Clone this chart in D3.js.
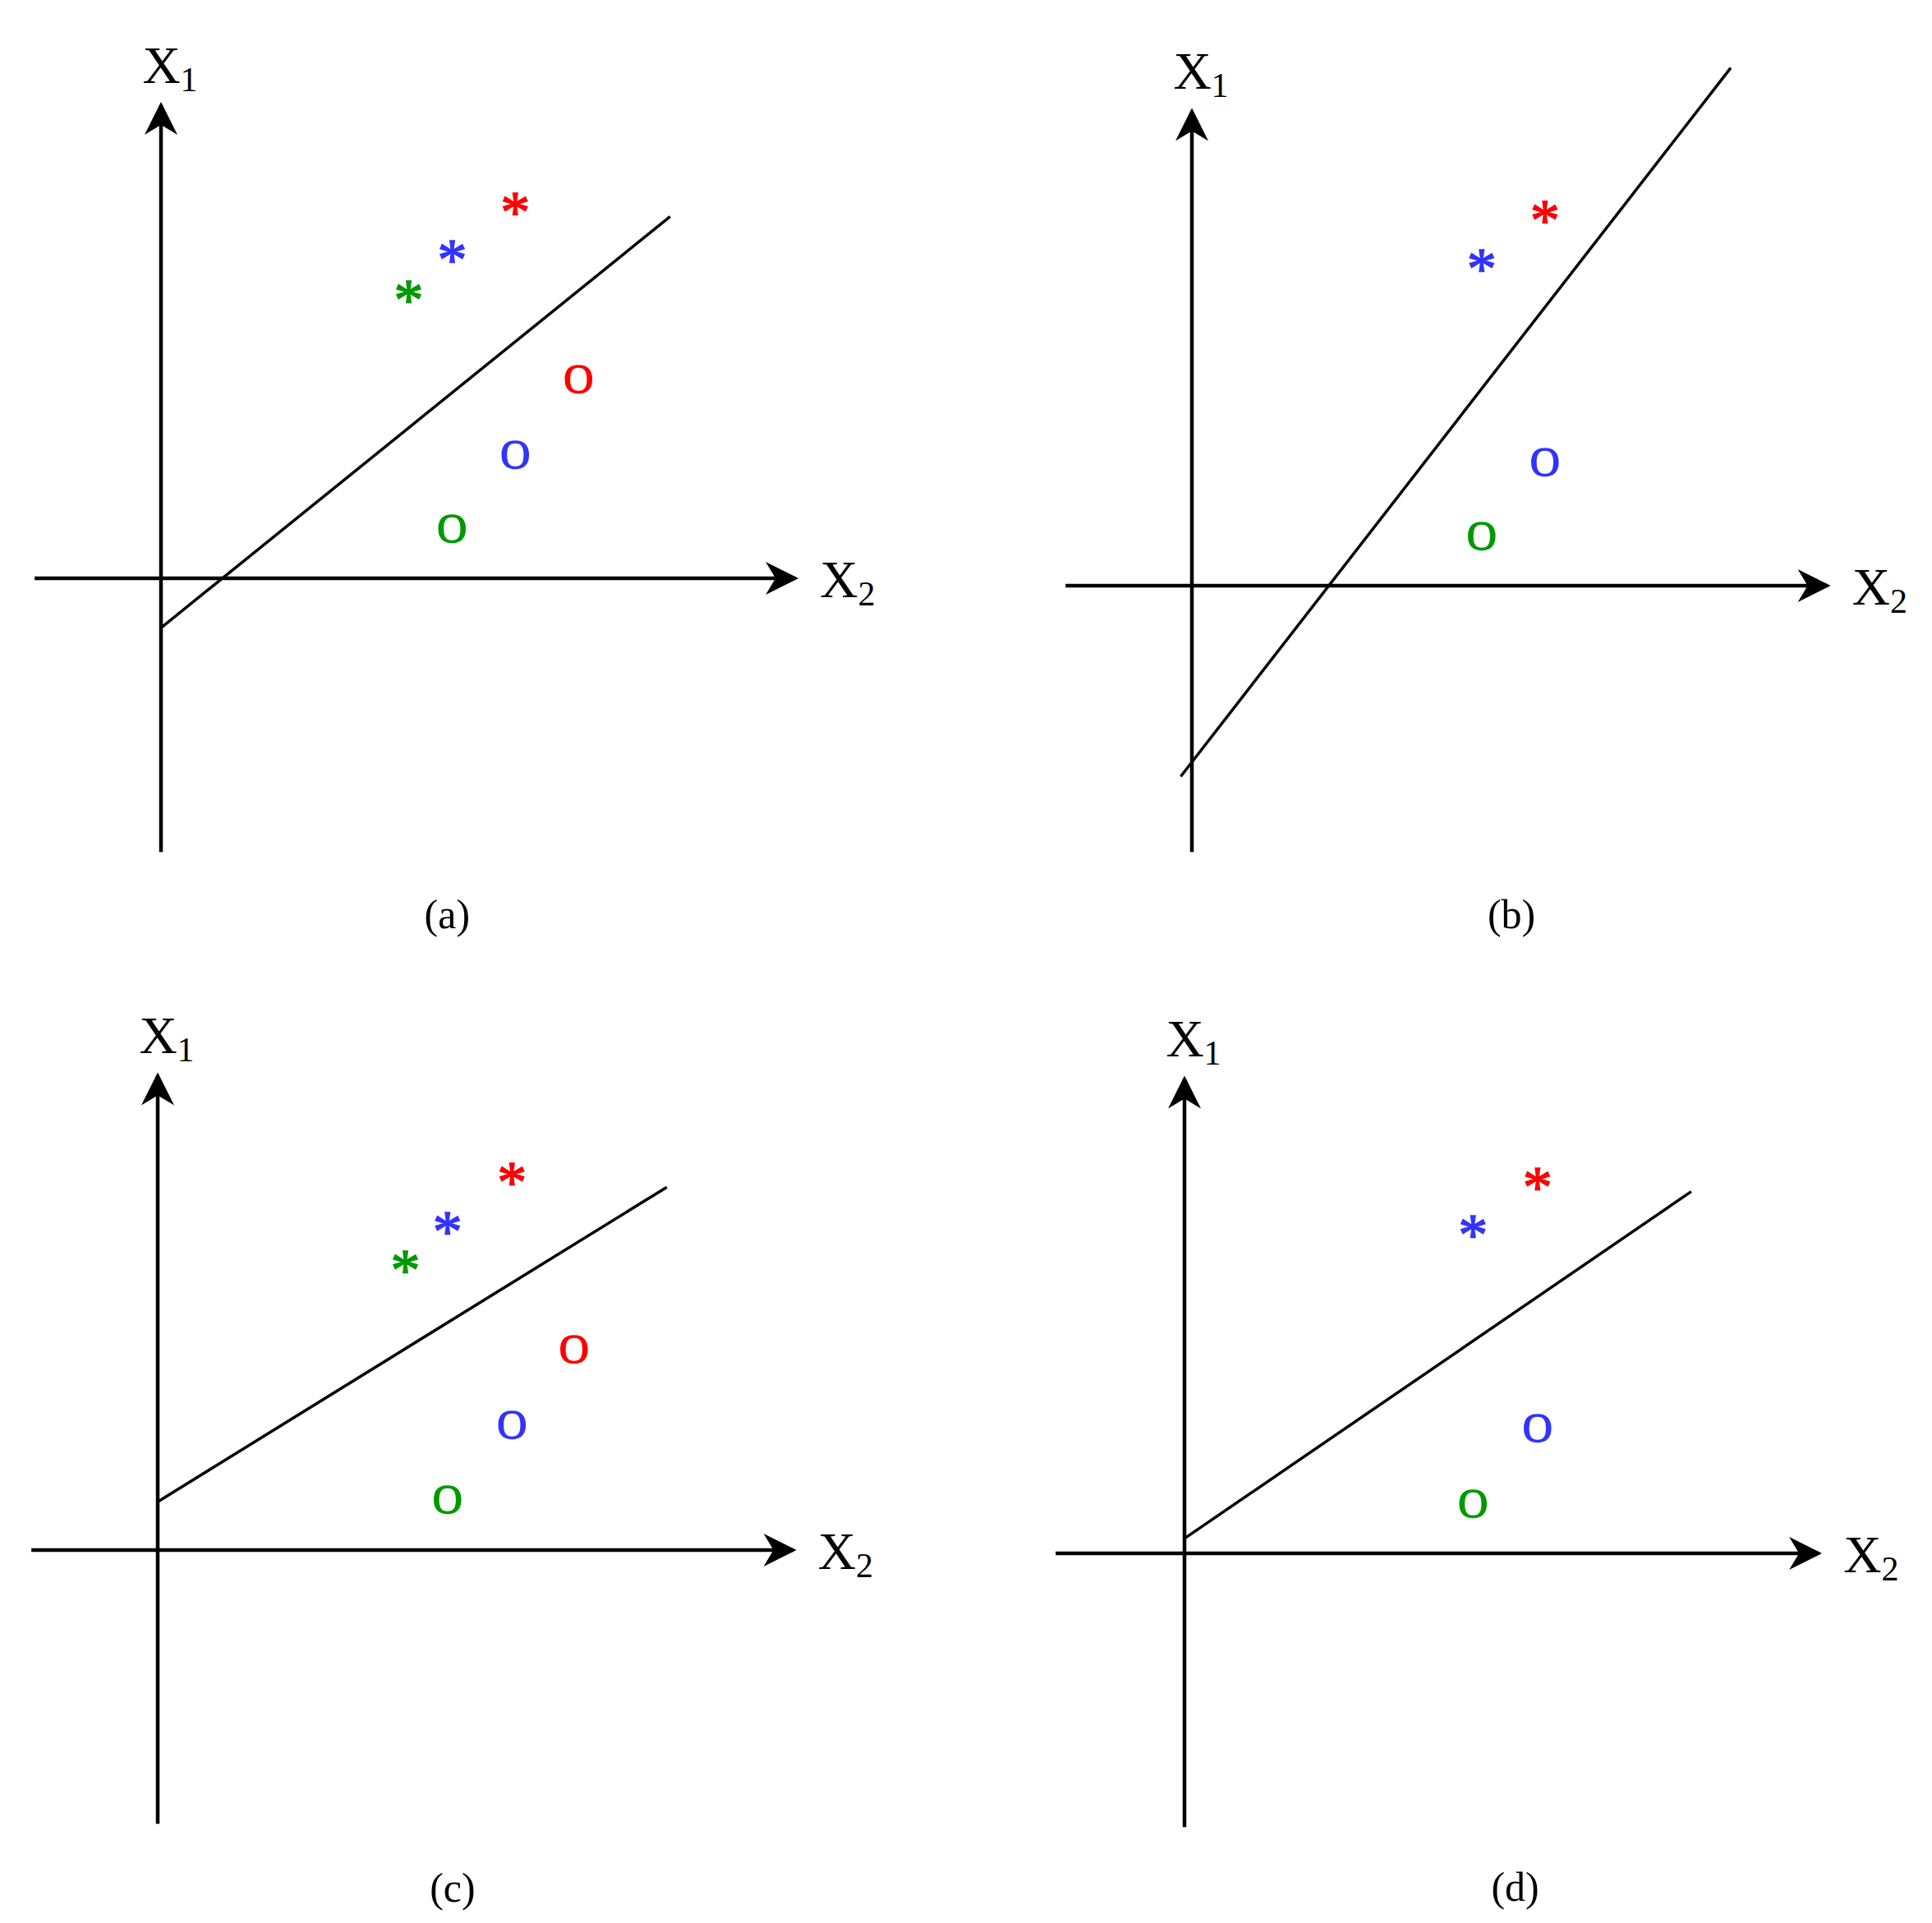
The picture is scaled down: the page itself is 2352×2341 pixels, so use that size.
<!DOCTYPE html>
<html>
<head>
<meta charset="utf-8">
<script src="https://cdn.jsdelivr.net/npm/d3@7"></script>
<style>body{margin:0;background:#fff}</style>
</head>
<body>
<div id="chart"></div>
<script>
(function () {
    var W = 2352, H = 2341, k = 150.8; // pixels per data unit

    // panels: name, origin on page, axis extents (data units)
    var panelNames = ['(a)', '(b)', '(c)', '(d)'];
    var origins = [[196, 704], [1451, 713], [192, 1887], [1442, 1891]];
    var xExtents = [[-1.02, 5.12], [-1.02, 5.13], [-1.02, 5.13], [-1.04, 5.12]];
    var yExtents = [[-2.21, 3.82], [-2.15, 3.83], [-2.21, 3.83], [-2.21, 3.83]];
    var captionPos = [[2.31, -2.71], [2.58, -2.65], [2.38, -2.72], [2.67, -2.69]];
    var boundaries = [
        [[0, -0.40], [4.11, 2.92]],
        [[-0.09, -1.54], [4.35, 4.18]],
        [[0, 0.39], [4.11, 2.93]],
        [[0, 0.12], [4.09, 2.92]]
    ];
    // markers: [x2, x1, symbol, colour]
    var markers = [
        [[2.86, 3.04, '*', 'red'], [2.35, 2.65, '*', 'blue'], [2.0, 2.33, '*', 'green'],
         [3.37, 1.61, 'O', 'red'], [2.86, 1.0, 'O', 'blue'], [2.35, 0.40, 'O', 'green']],
        [[2.85, 3.03, '*', 'red'], [2.34, 2.64, '*', 'blue'],
         [2.85, 1.0, 'O', 'blue'], [2.34, 0.40, 'O', 'green']],
        [[2.86, 3.05, '*', 'red'], [2.34, 2.65, '*', 'blue'], [2.0, 2.34, '*', 'green'],
         [3.36, 1.62, 'O', 'red'], [2.86, 1.01, 'O', 'blue'], [2.34, 0.41, 'O', 'green']],
        [[2.85, 3.04, '*', 'red'], [2.33, 2.65, '*', 'blue'],
         [2.85, 1.01, 'O', 'blue'], [2.33, 0.40, 'O', 'green']]
    ];
    var colours = { red: '#ff0000', blue: '#3333ff', green: '#009900' };

    var svg = d3.select('#chart').append('svg')
        .attr('width', W).attr('height', H)
        .style('font-family', "'Liberation Serif', 'Times New Roman', serif");

    svg.append('defs').append('marker')
        .attr('id', 'arr').attr('viewBox', '0 0 10 10')
        .attr('refX', 9).attr('refY', 5)
        .attr('markerUnits', 'userSpaceOnUse')
        .attr('orient', 'auto')
        .attr('markerWidth', 46).attr('markerHeight', 40)
        .append('path').attr('d', 'M0,0 L10,5 L0,10 L3,5 Z').attr('fill', '#000');

    panelNames.forEach(function (name, i) {
        var o = origins[i];
        var x = d3.scaleLinear().domain([0, 1]).range([o[0], o[0] + k]);
        var y = d3.scaleLinear().domain([0, 1]).range([o[1], o[1] - k]);
        var g = svg.append('g');

        // axes
        g.append('line')
            .attr('x1', x(xExtents[i][0])).attr('y1', y(0))
            .attr('x2', x(xExtents[i][1])).attr('y2', y(0))
            .attr('stroke', '#000').attr('stroke-width', 4.5)
            .attr('marker-end', 'url(#arr)');
        g.append('line')
            .attr('x1', x(0)).attr('y1', y(yExtents[i][0]))
            .attr('x2', x(0)).attr('y2', y(yExtents[i][1]))
            .attr('stroke', '#000').attr('stroke-width', 4.5)
            .attr('marker-end', 'url(#arr)');

        // boundary line
        g.append('path')
            .attr('d', d3.line().x(function (d) { return x(d[0]); }).y(function (d) { return y(d[1]); })(boundaries[i]))
            .attr('stroke', '#000').attr('stroke-width', 3.5).attr('fill', 'none');

        // markers
        g.selectAll('text.m').data(markers[i]).enter().append('text')
            .attr('class', 'm')
            .attr('x', function (d) { return x(d[0]); })
            .attr('y', function (d) { return y(d[1]); })
            .attr('dy', function (d) { return d[2] === '*' ? '0.5em' : '0.33em'; })
            .attr('text-anchor', 'middle')
            .attr('font-size', function (d) { return d[2] === '*' ? 72 : 50; })
            .attr('fill', function (d) { return colours[d[3]]; })
            .attr('stroke', function (d) { return colours[d[3]]; })
            .attr('stroke-width', 1.5)
            .text(function (d) { return d[2]; });

        // axis labels
        var l1 = g.append('text')
            .attr('x', x(-0.15)).attr('y', y(yExtents[i][1] + 0.18))
            .attr('font-size', 64);
        l1.append('tspan').text('X');
        l1.append('tspan').attr('font-size', 42).attr('dy', 10).text('1');

        var l2 = g.append('text')
            .attr('x', x(xExtents[i][1] + 0.2)).attr('y', y(-0.15))
            .attr('font-size', 64);
        l2.append('tspan').text('X');
        l2.append('tspan').attr('font-size', 42).attr('dy', 10).text('2');

        // caption
        g.append('text')
            .attr('x', x(captionPos[i][0])).attr('y', y(captionPos[i][1]))
            .attr('dy', '0.35em')
            .attr('text-anchor', 'middle')
            .attr('font-size', 50)
            .text(name);
    });
})();
</script>
</body>
</html>
